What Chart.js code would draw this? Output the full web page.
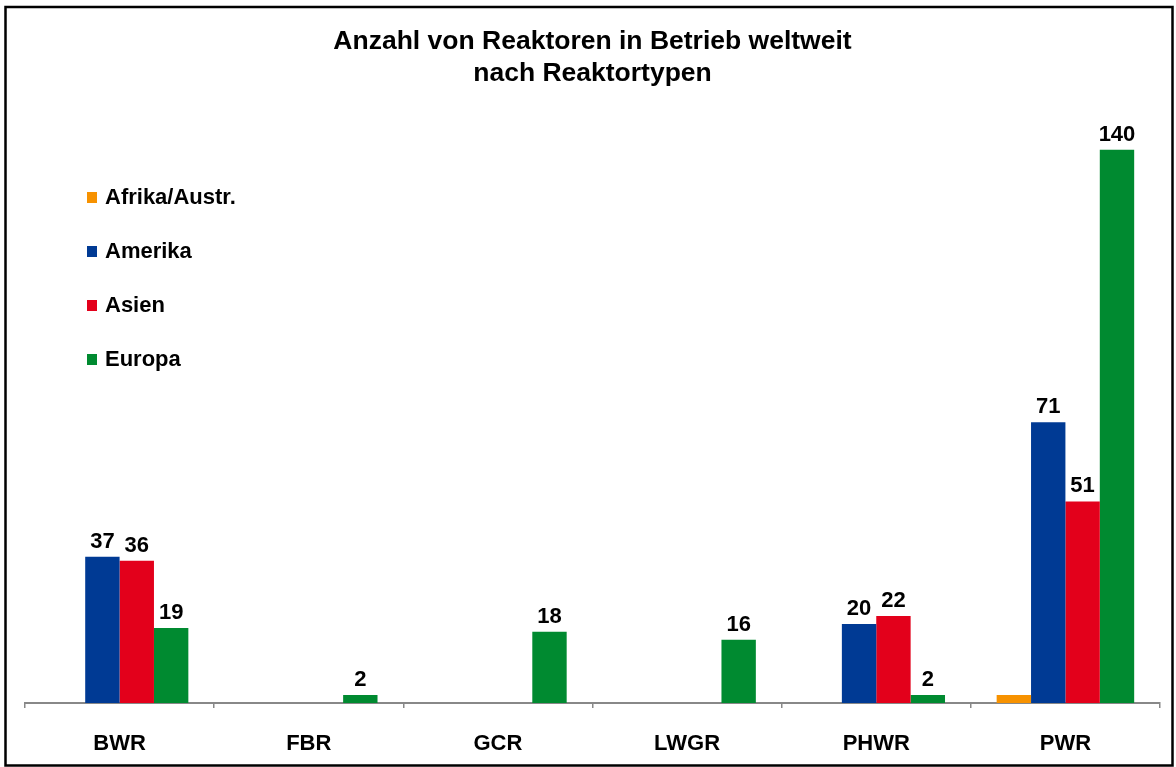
<!DOCTYPE html>
<html>
<head>
<meta charset="utf-8">
<script src="https://cdn.jsdelivr.net/npm/chart.js@4.4.1/dist/chart.umd.min.js"></script>
<style>
html,body{margin:0;padding:0;background:#fff;}
#wrap{width:1176px;height:767px;position:relative;}
</style>
</head>
<body>
<div id="wrap"><canvas id="c" width="1176" height="767"></canvas></div>
<script>
const categories = ["BWR", "FBR", "GCR", "LWGR", "PHWR", "PWR"];
const seriesNames = ["Afrika/Austr.", "Amerika", "Asien", "Europa"];
const afrika = [0, 0, 0, 0, 0, 2];
const amerika = [37, 0, 0, 0, 20, 71];
const asien = [36, 0, 0, 0, 22, 51];
const europa = [19, 2, 18, 16, 2, 140];
const showValueLabels = [false, true, true, true];
const colors = ["#F79200", "#003A94", "#E3001B", "#008A30"];
const titleLines = ["Anzahl von Reaktoren in Betrieb weltweit", "nach Reaktortypen"];

const FONT = "'Liberation Sans', Arial, sans-serif";
const seriesValues = [afrika, amerika, asien, europa];

const frame = {
  id: 'frame',
  afterDraw(chart) {
    const ctx = chart.ctx;
    ctx.save();
    ctx.strokeStyle = '#000';
    ctx.lineWidth = 2.5;
    ctx.strokeRect(5.5, 7, 1167, 758.5);
    ctx.restore();
  }
};

const valueLabels = {
  id: 'valueLabels',
  afterDatasetsDraw(chart) {
    const ctx = chart.ctx;
    ctx.save();
    ctx.font = "bold 22px " + FONT;
    ctx.fillStyle = '#000';
    ctx.textAlign = 'center';
    ctx.textBaseline = 'alphabetic';
    chart.data.datasets.forEach((ds, i) => {
      if (!showValueLabels[i]) return;
      const meta = chart.getDatasetMeta(i);
      meta.data.forEach((el, j) => {
        const v = ds.data[j];
        if (!v) return;
        ctx.fillText(String(v), el.x, el.y - 9);
      });
    });
    ctx.restore();
  }
};

const sideLegend = {
  id: 'sideLegend',
  afterDraw(chart) {
    const ctx = chart.ctx;
    ctx.save();
    ctx.font = "bold 22px " + FONT;
    ctx.textBaseline = 'middle';
    ctx.textAlign = 'left';
    chart.data.datasets.forEach((ds, i) => {
      const y = 198 + i * 54;
      ctx.fillStyle = ds.backgroundColor;
      ctx.fillRect(87, y - 6, 10, 11);
      ctx.fillStyle = '#000';
      ctx.fillText(ds.label, 105, y);
    });
    ctx.restore();
  }
};

new Chart(document.getElementById('c'), {
  type: 'bar',
  data: {
    labels: categories,
    datasets: seriesNames.map((name, i) => ({
      label: name,
      data: seriesValues[i],
      backgroundColor: colors[i],
      borderWidth: 0,
      categoryPercentage: 0.727,
      barPercentage: 1.0
    }))
  },
  options: {
    responsive: false,
    animation: false,
    devicePixelRatio: 1,
    layout: { padding: { left: 25, right: 16, top: 0, bottom: 0 } },
    plugins: {
      legend: { display: false },
      tooltip: { enabled: false },
      title: {
        display: true,
        text: titleLines,
        color: '#000',
        font: { family: FONT, size: 26.5, weight: 'bold', lineHeight: 1.21 },
        padding: { top: 26, bottom: 20 }
      }
    },
    scales: {
      x: {
        offset: true,
        afterFit(scale) { scale.height = 64; },
        grid: {
          display: true,
          drawOnChartArea: false,
          drawTicks: true,
          tickLength: 5,
          color: '#888',
          lineWidth: 1.5,
          offset: true
        },
        border: { display: true, color: '#888', width: 2 },
        ticks: {
          color: '#000',
          padding: 23,
          font: { family: FONT, size: 22, weight: 'bold' }
        }
      },
      y: {
        display: false,
        min: 0,
        max: 150
      }
    }
  },
  plugins: [frame, valueLabels, sideLegend]
});
</script>
</body>
</html>
